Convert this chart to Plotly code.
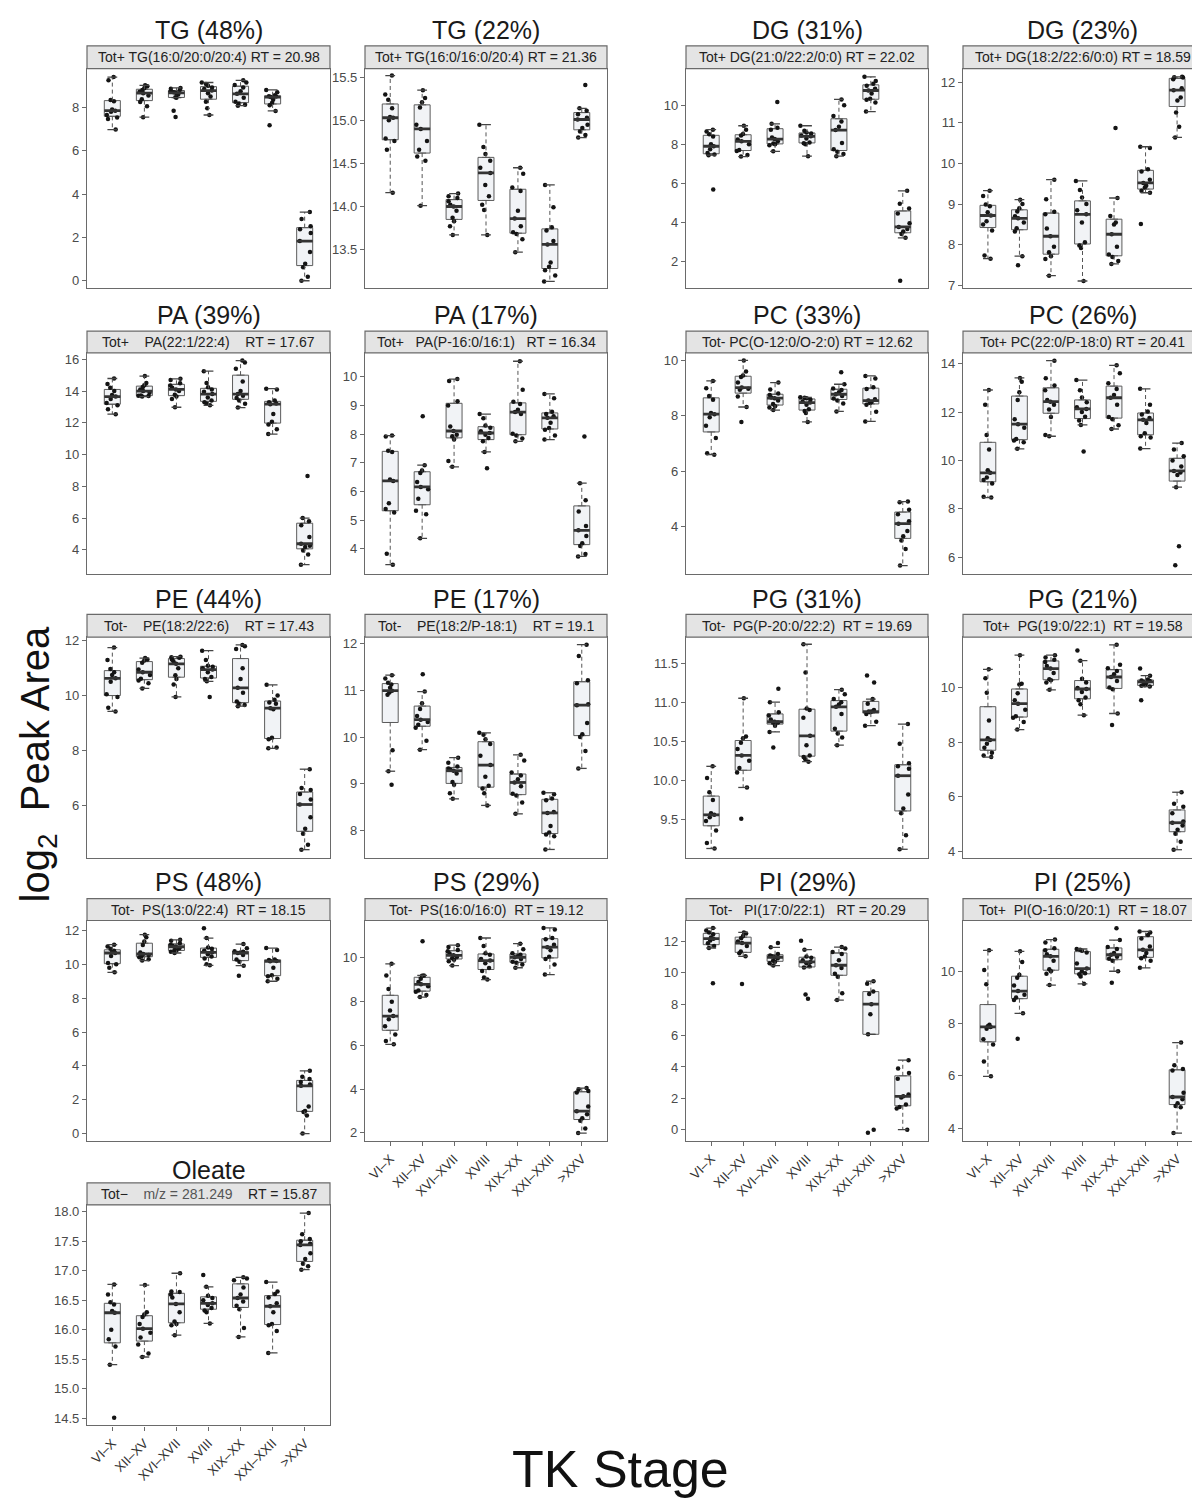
import numpy as np
import plotly.graph_objects as go

# ---------------- data ----------------
STAGES = ["VI–X", "XII–XV", "XVI–XVII", "XVIII", "XIX–XX", "XXI–XXII", ">XXV"]

TG_48 = [
    [6.98, 7.47, 7.53, 7.65, 7.80, 7.85, 7.91, 8.29, 8.34, 9.25, 9.40],
    [7.55, 8.06, 8.25, 8.38, 8.55, 8.66, 8.72, 8.80, 8.88, 8.98, 9.02],
    [7.56, 7.85, 8.45, 8.47, 8.60, 8.67, 8.70, 8.75, 8.81, 8.86, 8.90],
    [7.65, 7.96, 8.26, 8.50, 8.65, 8.78, 8.85, 8.92, 9.00, 9.08, 9.15],
    [8.08, 8.12, 8.18, 8.26, 8.45, 8.63, 8.75, 8.92, 9.04, 9.15, 9.25],
    [7.18, 7.84, 8.10, 8.22, 8.35, 8.48, 8.50, 8.52, 8.56, 8.70, 8.81],
    [0.00, 0.18, 0.62, 0.78, 1.33, 1.83, 2.20, 2.38, 2.52, 2.85, 3.17],
]
TG_22 = [
    [14.16, 14.66, 14.76, 14.79, 15.00, 15.03, 15.04, 15.14, 15.24, 15.30, 15.52],
    [14.01, 14.53, 14.58, 14.66, 14.76, 14.90, 14.95, 15.15, 15.21, 15.26, 15.35],
    [13.67, 13.77, 13.83, 13.87, 13.95, 14.00, 14.02, 14.06, 14.10, 14.12, 14.15],
    [13.67, 13.96, 14.02, 14.12, 14.25, 14.39, 14.45, 14.53, 14.61, 14.69, 14.95],
    [13.47, 13.62, 13.68, 13.70, 13.77, 13.86, 13.95, 14.18, 14.22, 14.38, 14.45],
    [13.13, 13.20, 13.26, 13.30, 13.35, 13.56, 13.60, 13.72, 13.76, 13.99, 14.25],
    [14.80, 14.83, 14.87, 14.91, 14.95, 15.01, 15.03, 15.07, 15.11, 15.14, 15.41],
]
DG_31 = [
    [5.68, 7.44, 7.48, 7.55, 7.75, 7.90, 8.00, 8.40, 8.52, 8.65, 8.75],
    [7.37, 7.45, 7.65, 7.71, 8.00, 8.15, 8.25, 8.45, 8.53, 8.75, 8.95],
    [7.64, 7.95, 8.00, 8.04, 8.15, 8.27, 8.35, 8.75, 8.85, 9.05, 10.17],
    [7.39, 8.00, 8.05, 8.09, 8.30, 8.41, 8.45, 8.55, 8.61, 8.70, 8.95],
    [7.39, 7.50, 7.62, 7.74, 8.07, 8.73, 8.90, 9.17, 9.45, 10.00, 10.30],
    [9.68, 10.15, 10.28, 10.34, 10.60, 10.76, 10.85, 11.00, 11.10, 11.25, 11.46],
    [1.00, 3.20, 3.40, 3.52, 3.65, 3.76, 3.95, 4.45, 4.71, 4.95, 5.61],
]
DG_23 = [
    [7.66, 7.74, 8.35, 8.50, 8.58, 8.72, 8.80, 8.95, 8.99, 9.20, 9.33],
    [7.50, 7.72, 8.33, 8.41, 8.55, 8.65, 8.70, 8.82, 8.90, 9.00, 9.11],
    [7.24, 7.65, 7.72, 7.82, 7.95, 8.21, 8.40, 8.75, 8.81, 9.12, 9.60],
    [7.11, 7.92, 7.98, 8.06, 8.55, 8.75, 8.85, 9.00, 9.16, 9.35, 9.57],
    [7.53, 7.60, 7.70, 7.76, 7.95, 8.26, 8.50, 8.55, 8.71, 9.15, 10.87],
    [8.51, 9.28, 9.33, 9.41, 9.45, 9.52, 9.60, 9.80, 9.86, 10.38, 10.41],
    [10.64, 10.90, 11.25, 11.55, 11.62, 11.80, 11.85, 12.07, 12.11, 12.12, 12.13],
]
PA_39 = [
    [12.54, 12.85, 13.10, 13.24, 13.50, 13.65, 13.75, 14.00, 14.20, 14.45, 14.79],
    [13.65, 13.68, 13.70, 13.72, 13.90, 14.00, 14.10, 14.25, 14.37, 14.50, 14.94],
    [12.98, 13.50, 13.65, 13.77, 14.00, 14.10, 14.20, 14.35, 14.49, 14.70, 14.77],
    [13.10, 13.20, 13.30, 13.40, 13.60, 13.81, 13.95, 14.10, 14.24, 14.50, 15.25],
    [12.96, 13.20, 13.40, 13.56, 13.70, 13.81, 14.00, 14.60, 15.40, 15.80, 15.92],
    [11.29, 11.60, 11.90, 12.06, 12.55, 13.17, 13.22, 13.30, 13.40, 14.10, 14.15],
    [3.06, 3.70, 3.95, 4.17, 4.25, 4.38, 4.80, 5.55, 5.80, 6.00, 8.65],
]
PA_17 = [
    [3.45, 3.83, 5.27, 5.39, 5.59, 6.37, 6.42, 7.38, 7.42, 7.92, 7.95],
    [4.37, 5.21, 5.33, 5.75, 6.08, 6.16, 6.33, 6.65, 6.73, 6.92, 8.62],
    [6.86, 7.06, 7.81, 7.93, 7.98, 8.11, 8.27, 9.00, 9.15, 9.85, 9.92],
    [6.81, 7.38, 7.75, 7.87, 7.98, 8.04, 8.10, 8.22, 8.30, 8.55, 8.70],
    [7.75, 7.85, 7.95, 8.01, 8.70, 8.77, 8.85, 9.05, 9.13, 9.55, 10.54],
    [7.81, 7.95, 8.15, 8.21, 8.40, 8.57, 8.62, 8.70, 8.78, 9.25, 9.40],
    [3.74, 3.82, 4.10, 4.20, 4.45, 4.65, 4.80, 5.30, 5.70, 6.29, 7.92],
]
PC_33 = [
    [6.60, 6.65, 7.20, 7.64, 7.95, 8.06, 8.10, 8.58, 8.72, 9.00, 9.26],
    [7.78, 8.32, 8.70, 8.94, 8.98, 9.02, 9.20, 9.40, 9.46, 9.60, 10.00],
    [8.21, 8.30, 8.35, 8.43, 8.55, 8.64, 8.66, 8.75, 8.81, 8.95, 9.20],
    [7.78, 8.10, 8.18, 8.24, 8.40, 8.48, 8.52, 8.58, 8.64, 8.65, 8.67],
    [8.16, 8.45, 8.55, 8.63, 8.72, 8.78, 8.85, 8.93, 8.99, 9.14, 9.57],
    [7.80, 8.15, 8.40, 8.46, 8.50, 8.55, 8.60, 8.97, 9.03, 9.35, 9.44],
    [2.60, 3.20, 3.50, 3.66, 3.85, 4.11, 4.20, 4.45, 4.61, 4.88, 4.91],
]
PC_26 = [
    [8.47, 8.50, 9.05, 9.19, 9.30, 9.49, 9.60, 10.45, 11.05, 12.30, 12.91],
    [10.48, 10.75, 10.83, 10.89, 11.35, 11.50, 11.70, 12.50, 12.82, 13.25, 13.41],
    [11.00, 11.05, 11.80, 12.10, 12.30, 12.43, 12.50, 12.90, 13.10, 13.40, 14.12],
    [10.37, 11.47, 11.65, 11.81, 12.00, 12.13, 12.20, 12.40, 12.60, 12.90, 13.32],
    [11.30, 11.45, 11.70, 11.80, 12.30, 12.59, 12.70, 12.95, 13.19, 13.60, 13.93],
    [10.49, 10.95, 11.00, 11.12, 11.55, 11.68, 11.75, 11.90, 12.02, 12.30, 12.96],
    [5.67, 6.46, 8.90, 9.40, 9.50, 9.57, 9.75, 10.00, 10.18, 10.45, 10.72],
]
PE_44 = [
    [9.42, 9.55, 9.95, 10.05, 10.50, 10.63, 10.75, 10.85, 10.97, 11.30, 11.75],
    [10.26, 10.45, 10.55, 10.61, 10.75, 10.85, 10.95, 11.20, 11.28, 11.32, 11.37],
    [9.95, 10.40, 10.60, 10.74, 11.00, 11.16, 11.25, 11.32, 11.38, 11.40, 11.42],
    [9.95, 10.52, 10.60, 10.68, 10.85, 10.95, 11.00, 11.05, 11.09, 11.30, 11.64],
    [9.61, 9.65, 9.70, 9.78, 10.10, 10.28, 10.60, 11.00, 11.70, 11.80, 11.85],
    [8.07, 8.10, 8.40, 8.46, 9.50, 9.54, 9.70, 9.75, 9.85, 10.00, 10.39],
    [4.37, 4.55, 4.95, 5.13, 5.55, 6.02, 6.20, 6.40, 6.55, 6.62, 7.31],
]
PE_17 = [
    [8.98, 9.27, 9.72, 10.90, 10.95, 10.99, 11.05, 11.12, 11.16, 11.25, 11.32],
    [9.73, 9.92, 10.20, 10.26, 10.32, 10.37, 10.45, 10.60, 10.72, 10.97, 11.34],
    [8.68, 8.80, 8.98, 9.04, 9.22, 9.28, 9.30, 9.33, 9.37, 9.45, 9.56],
    [8.54, 8.80, 8.90, 8.96, 9.15, 9.40, 9.60, 9.85, 9.95, 10.05, 10.09],
    [8.36, 8.60, 8.75, 8.79, 8.95, 9.03, 9.10, 9.18, 9.24, 9.50, 9.62],
    [7.60, 7.88, 7.92, 7.96, 8.10, 8.38, 8.40, 8.65, 8.69, 8.78, 8.81],
    [9.33, 9.70, 10.00, 10.06, 10.30, 10.68, 10.70, 11.15, 11.21, 11.73, 11.97],
]
PG_31 = [
    [9.13, 9.20, 9.36, 9.48, 9.53, 9.56, 9.58, 9.75, 9.85, 10.03, 10.18],
    [9.51, 9.91, 10.10, 10.16, 10.25, 10.32, 10.40, 10.48, 10.54, 10.56, 11.05],
    [10.42, 10.62, 10.70, 10.74, 10.74, 10.75, 10.78, 10.83, 10.87, 11.00, 11.17],
    [10.24, 10.27, 10.30, 10.32, 10.45, 10.57, 10.80, 10.90, 10.92, 11.38, 11.74],
    [10.45, 10.55, 10.60, 10.66, 10.85, 10.94, 10.97, 11.00, 11.04, 11.10, 11.16],
    [10.70, 10.75, 10.85, 10.87, 10.88, 10.88, 10.90, 10.98, 11.04, 11.25, 11.34],
    [9.12, 9.30, 9.58, 9.64, 9.82, 10.06, 10.15, 10.18, 10.22, 10.47, 10.72],
]
PG_21 = [
    [7.46, 7.52, 7.62, 7.80, 7.95, 8.09, 8.15, 8.80, 9.82, 10.35, 10.68],
    [8.47, 8.75, 8.90, 8.96, 9.20, 9.42, 9.55, 9.80, 10.12, 10.15, 11.20],
    [9.93, 10.20, 10.28, 10.32, 10.55, 10.71, 10.80, 10.95, 11.03, 11.12, 11.20],
    [9.00, 9.40, 9.55, 9.65, 9.85, 9.96, 10.00, 10.20, 10.34, 11.00, 11.37],
    [8.64, 9.06, 9.95, 10.01, 10.25, 10.40, 10.50, 10.62, 10.72, 10.85, 11.58],
    [9.55, 10.05, 10.08, 10.10, 10.18, 10.22, 10.25, 10.27, 10.31, 10.45, 10.71],
    [4.06, 4.35, 4.65, 4.79, 4.95, 5.05, 5.10, 5.40, 5.64, 5.75, 6.17],
]
PS_48 = [
    [9.53, 9.80, 10.00, 10.08, 10.50, 10.67, 10.75, 10.80, 10.92, 11.05, 11.16],
    [10.22, 10.30, 10.42, 10.48, 10.55, 10.61, 10.70, 11.15, 11.35, 11.60, 11.75],
    [10.67, 10.75, 10.80, 10.84, 10.95, 11.04, 11.10, 11.15, 11.25, 11.40, 11.45],
    [9.94, 10.00, 10.35, 10.47, 10.60, 10.71, 10.80, 10.92, 11.00, 11.55, 12.14],
    [9.33, 9.92, 10.15, 10.29, 10.55, 10.67, 10.70, 10.74, 10.78, 10.95, 11.20],
    [9.00, 9.15, 9.30, 9.36, 9.80, 10.18, 10.20, 10.25, 10.29, 10.85, 10.96],
    [0.00, 1.06, 1.28, 1.34, 1.60, 2.82, 2.90, 3.05, 3.23, 3.35, 3.71],
]
PS_29 = [
    [6.05, 6.20, 6.50, 6.88, 7.20, 7.34, 7.60, 8.00, 8.58, 9.20, 9.73],
    [8.21, 8.30, 8.45, 8.51, 8.70, 8.79, 8.90, 9.05, 9.18, 9.20, 10.76],
    [9.65, 9.85, 9.92, 9.98, 10.05, 10.12, 10.20, 10.30, 10.36, 10.50, 10.58],
    [9.01, 9.10, 9.40, 9.54, 9.75, 9.88, 9.95, 10.15, 10.21, 10.55, 10.91],
    [9.55, 9.70, 9.78, 9.82, 9.95, 10.03, 10.08, 10.15, 10.21, 10.40, 10.65],
    [9.24, 9.70, 9.95, 10.05, 10.35, 10.49, 10.60, 10.85, 10.91, 11.30, 11.37],
    [1.99, 2.20, 2.55, 2.67, 2.85, 2.99, 3.20, 3.85, 3.91, 4.00, 4.05],
]
PI_29 = [
    [9.34, 11.58, 11.70, 11.88, 12.05, 12.17, 12.25, 12.45, 12.57, 12.70, 12.85],
    [9.29, 11.05, 11.25, 11.35, 11.70, 11.89, 12.00, 12.20, 12.34, 12.50, 12.57],
    [10.46, 10.60, 10.70, 10.76, 10.92, 10.99, 11.05, 11.10, 11.20, 11.62, 11.90],
    [8.34, 8.62, 10.33, 10.41, 10.60, 10.69, 10.80, 10.95, 11.03, 11.47, 12.04],
    [8.26, 8.70, 9.75, 9.93, 10.30, 10.48, 10.80, 11.20, 11.32, 11.55, 11.64],
    [-0.20, 0.00, 6.08, 7.35, 8.00, 8.65, 8.80, 9.30, 9.46],
    [0.00, 1.35, 1.45, 1.60, 2.05, 2.13, 2.25, 3.25, 3.62, 3.90, 4.43],
]
PI_25 = [
    [5.98, 6.55, 7.20, 7.40, 7.80, 7.87, 7.90, 7.95, 9.50, 10.05, 10.80],
    [7.42, 8.39, 8.90, 9.00, 9.10, 9.24, 9.45, 9.75, 9.87, 10.35, 10.76],
    [9.47, 9.90, 10.00, 10.08, 10.40, 10.57, 10.65, 10.80, 10.88, 11.10, 11.21],
    [9.52, 9.80, 9.88, 9.92, 10.00, 10.10, 10.30, 10.72, 10.78, 10.82, 10.85],
    [9.56, 10.00, 10.40, 10.48, 10.55, 10.63, 10.70, 10.85, 10.93, 11.19, 11.64],
    [10.13, 10.40, 10.50, 10.56, 10.70, 10.82, 10.95, 11.25, 11.39, 11.48, 11.52],
    [3.81, 4.80, 4.85, 4.95, 5.10, 5.19, 5.35, 6.20, 6.26, 6.40, 7.27],
]
OLEATE = [
    [14.51, 15.41, 15.72, 15.84, 16.00, 16.29, 16.32, 16.43, 16.47, 16.60, 16.77],
    [15.54, 15.60, 15.75, 15.87, 15.95, 16.02, 16.10, 16.22, 16.26, 16.30, 16.76],
    [15.91, 16.08, 16.10, 16.14, 16.30, 16.44, 16.55, 16.60, 16.64, 16.65, 16.96],
    [16.11, 16.30, 16.33, 16.37, 16.42, 16.45, 16.50, 16.54, 16.58, 16.73, 16.93],
    [15.88, 16.03, 16.35, 16.41, 16.48, 16.54, 16.60, 16.72, 16.84, 16.87, 16.89],
    [15.61, 15.98, 16.08, 16.10, 16.30, 16.40, 16.45, 16.55, 16.61, 16.65, 16.81],
    [17.02, 17.08, 17.12, 17.20, 17.30, 17.44, 17.46, 17.50, 17.54, 17.62, 17.98],
]

TITLES = ["TG (48%)", "TG (22%)", "DG (31%)", "DG (23%)",
          "PA (39%)", "PA (17%)", "PC (33%)", "PC (26%)",
          "PE (44%)", "PE (17%)", "PG (31%)", "PG (21%)",
          "PS (48%)", "PS (29%)", "PI (29%)", "PI (25%)",
          "Oleate"]
STRIPS = ["Tot+ TG(16:0/20:0/20:4) RT = 20.98",
          "Tot+ TG(16:0/16:0/20:4) RT = 21.36",
          "Tot+ DG(21:0/22:2/0:0) RT = 22.02",
          "Tot+ DG(18:2/22:6/0:0) RT = 18.59",
          "Tot+    PA(22:1/22:4)    RT = 17.67",
          "Tot+   PA(P-16:0/16:1)   RT = 16.34",
          "Tot- PC(O-12:0/O-2:0) RT = 12.62",
          "Tot+ PC(22:0/P-18:0) RT = 20.41",
          "Tot-    PE(18:2/22:6)    RT = 17.43",
          "Tot-    PE(18:2/P-18:1)    RT = 19.1",
          "Tot-  PG(P-20:0/22:2)  RT = 19.69",
          "Tot+  PG(19:0/22:1)  RT = 19.58",
          "Tot-  PS(13:0/22:4)  RT = 18.15",
          "Tot-  PS(16:0/16:0)  RT = 19.12",
          "Tot-   PI(17:0/22:1)   RT = 20.29",
          "Tot+  PI(O-16:0/20:1)  RT = 18.07",
          "Tot−    <span style='color:#555'>m/z = 281.249</span>    RT = 15.87"]
Y_RANGES = [[-0.35, 9.79], [13.05, 15.60], [0.61, 11.88], [6.93, 12.33],
            [2.5, 16.4], [3.14, 10.83], [2.31, 10.27], [5.33, 14.44],
            [4.07, 12.13], [7.42, 12.13], [9.01, 11.83], [3.76, 11.86],
            [-0.45, 12.59], [1.62, 11.71], [-0.73, 13.33], [3.50, 11.94],
            [14.38, 18.12]]
Y_TICKS = [[0, 2, 4, 6, 8], [13.5, 14.0, 14.5, 15.0, 15.5], [2, 4, 6, 8, 10], [7, 8, 9, 10, 11, 12],
           [4, 6, 8, 10, 12, 14, 16], [4, 5, 6, 7, 8, 9, 10], [4, 6, 8, 10], [6, 8, 10, 12, 14],
           [6, 8, 10, 12], [8, 9, 10, 11, 12], [9.5, 10.0, 10.5, 11.0, 11.5], [4, 6, 8, 10],
           [0, 2, 4, 6, 8, 10, 12], [2, 4, 6, 8, 10], [0, 2, 4, 6, 8, 10, 12], [4, 6, 8, 10],
           [14.5, 15.0, 15.5, 16.0, 16.5, 17.0, 17.5, 18.0]]
Y_DECIMALS = [0, 1, 0, 0, 0, 0, 0, 0, 0, 0, 1, 0, 0, 0, 0, 0, 1]

PANEL_DATA = [TG_48, TG_22, DG_31, DG_23, PA_39, PA_17, PC_33, PC_26,
              PE_44, PE_17, PG_31, PG_21, PS_48, PS_29, PI_29, PI_25, OLEATE]
GRID = [(0, 0), (0, 1), (0, 2), (0, 3), (1, 0), (1, 1), (1, 2), (1, 3),
        (2, 0), (2, 1), (2, 2), (2, 3), (3, 0), (3, 1), (3, 2), (3, 3), (4, 0)]
BOTTOM_PANELS = {13, 14, 15, 16}

# ---------------- geometry / style ----------------
W, H = 1200, 1498
COLS = [(79, 322), (357, 599), (678, 920), (955, 1194)]
ROWS = [(18, 34, 57, 278), (305, 321, 343, 565), (591, 606, 629, 851),
        (875, 892, 914, 1136), (1165, 1178, 1200, 1422)]
FONT = "Liberation Sans, Arial, sans-serif"
BORDER = "#6a6a6a"
TICKC = "#4a4a4a"
BOXFILL = "#f1f3f6"
BOXLINE = "#5c5c5c"
BOXW = 0.5

fig = go.Figure()
layout = {}
annotations = []
shapes = []

for k, groups in enumerate(PANEL_DATA):
    n = k + 1
    xr = "x" if n == 1 else f"x{n}"
    yr = "y" if n == 1 else f"y{n}"
    pos = list(range(len(STAGES)))
    q1s, meds, q3s, los, his = [], [], [], [], []
    for vals in groups:
        v = np.asarray(vals, dtype=float)
        q1, med, q3 = np.percentile(v, [25, 50, 75])
        iqr = q3 - q1
        lo = v[v >= q1 - 1.5 * iqr].min()
        hi = v[v <= q3 + 1.5 * iqr].max()
        q1s.append(q1); meds.append(med); q3s.append(q3); los.append(lo); his.append(hi)

    common = dict(xaxis=xr, yaxis=yr, showlegend=False, hoverinfo="skip")
    # boxes
    fig.add_trace(go.Box(x=pos, q1=q1s, median=meds, q3=q3s, lowerfence=q1s, upperfence=q3s,
                         orientation="v", width=BOXW, fillcolor=BOXFILL,
                         line=dict(color=BOXLINE, width=1), boxpoints=False, **common))
    # dashed whiskers
    wx, wy = [], []
    for i in pos:
        wx += [i, i, None, i, i, None]
        wy += [q3s[i], his[i], None, q1s[i], los[i], None]
    fig.add_trace(go.Scatter(x=wx, y=wy, mode="lines",
                             line=dict(color="#555555", width=1, dash="4px,3px"), **common))
    # whisker caps
    fig.add_trace(go.Scatter(x=pos + pos, y=his + los, mode="markers",
                             marker=dict(symbol="line-ew", size=7,
                                         line=dict(color="#444444", width=1.3)), **common))
    # medians
    mx, my = [], []
    for i in pos:
        mx += [i - BOXW / 2, i + BOXW / 2, None]
        my += [meds[i], meds[i], None]
    fig.add_trace(go.Scatter(x=mx, y=my, mode="lines",
                             line=dict(color="#333333", width=2.8), **common))
    # jittered points
    px, py = [], []
    for i, vals in enumerate(groups):
        px += [i] * len(vals)
        py += list(vals)
    fig.add_trace(go.Box(x=px, y=py, boxpoints="all", jitter=0.85, pointpos=0, width=BOXW,
                         fillcolor="rgba(0,0,0,0)", line=dict(color="rgba(0,0,0,0)", width=0),
                         marker=dict(color="#141414", size=4.5), **common))

    r, c = GRID[k]
    x0, x1 = COLS[c]
    ty, st, pt, pb = ROWS[r]
    bottom = k in BOTTOM_PANELS
    dec = Y_DECIMALS[k]
    layout["xaxis" if n == 1 else f"xaxis{n}"] = dict(
        domain=[x0 / W, x1 / W], anchor=yr, range=[-0.79, 6.79],
        tickmode="array", tickvals=pos, ticktext=STAGES,
        showticklabels=bottom, ticks="outside" if bottom else "", ticklen=4,
        tickcolor=BORDER, tickangle=-45,
        tickfont=dict(size=13, color="#333333", family=FONT),
        showline=True, mirror=True, linecolor=BORDER, linewidth=1.2,
        showgrid=False, zeroline=False, fixedrange=True)
    layout["yaxis" if n == 1 else f"yaxis{n}"] = dict(
        domain=[1 - pb / H, 1 - pt / H], anchor=xr, range=Y_RANGES[k],
        tickmode="array", tickvals=Y_TICKS[k],
        ticktext=[f"{t:.{dec}f}" for t in Y_TICKS[k]],
        ticks="outside", ticklen=4, tickcolor=BORDER,
        tickfont=dict(size=13, color=TICKC, family=FONT),
        showline=True, mirror=True, linecolor=BORDER, linewidth=1.2,
        showgrid=False, zeroline=False, fixedrange=True)

    # strip
    shapes.append(dict(type="rect", xref="paper", yref="paper",
                       x0=x0 / W, x1=x1 / W, y0=1 - pt / H, y1=1 - st / H,
                       fillcolor="#e4e4e4", line=dict(color=BORDER, width=1.2)))
    annotations.append(dict(text=STRIPS[k].replace("    ", "\u00a0\u00a0\u00a0\u00a0")
                            .replace("   ", "\u00a0\u00a0\u00a0").replace("  ", "\u00a0\u00a0"),
                            xref="paper", yref="paper", x=(x0 + x1) / 2 / W,
                            y=1 - (st + pt) / 2 / H, xanchor="center", yanchor="middle",
                            showarrow=False, font=dict(size=14, color="#222222", family=FONT)))
    annotations.append(dict(text=TITLES[k], xref="paper", yref="paper",
                            x=(x0 + x1) / 2 / W, y=1 - ty / H, xanchor="center",
                            yanchor="middle", showarrow=False,
                            font=dict(size=25, color="#1a1a1a", family=FONT)))

annotations.append(dict(text="log<sub>2</sub>\u00a0 Peak Area", xref="paper", yref="paper",
                        x=30 / W, y=1 - 757 / H, xanchor="center", yanchor="middle",
                        textangle=-90, showarrow=False,
                        font=dict(size=40, color="#111111", family=FONT)))
annotations.append(dict(text="TK Stage", xref="paper", yref="paper",
                        x=612 / W, y=1 - 1466 / H, xanchor="center", yanchor="middle",
                        showarrow=False, font=dict(size=52, color="#111111", family=FONT)))

fig.update_layout(width=W, height=H, margin=dict(l=0, r=0, t=0, b=0), autosize=False,
                  paper_bgcolor="white", plot_bgcolor="white", boxmode="overlay",
                  annotations=annotations, shapes=shapes, showlegend=False,
                  font=dict(family=FONT), **layout)

fig.write_html("out.html")
